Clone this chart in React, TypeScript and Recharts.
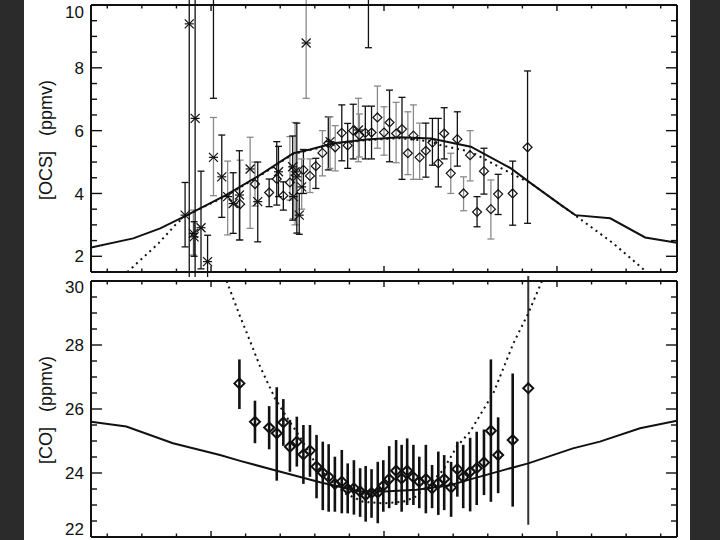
import React from 'react';
import { ComposedChart, Line, Scatter, XAxis, YAxis, ErrorBar } from 'recharts';

// shared latitude axis
const latDomain = [-84.7, 84.7];
const latTicks = [-80, -70, -60, -50, -40, -30, -20, -10, 0, 10, 20, 30, 40, 50, 60, 70, 80];
const latMajor = [-50, 0, 50];

// OCS panel axis
const ocsDomain = [1.5, 10];
const ocsTicks = [2, 2.5, 3, 3.5, 4, 4.5, 5, 5.5, 6, 6.5, 7, 7.5, 8, 8.5, 9, 9.5, 10];
const ocsLabels = [2, 4, 6, 8, 10];

// CO panel axis
const coDomain = [22, 30];
const coTicks = [22, 22.5, 23, 23.5, 24, 24.5, 25, 25.5, 26, 26.5, 27, 27.5, 28, 28.5, 29, 29.5, 30];
const coLabels = [22, 24, 26, 28, 30];

// OCS model curves
const ocsModelLat = [-84.7, -72.5, -64.7, -57.5, -45.7, -35.8, -26.2, -21.4, -14.6, -5.0, 4.6, 13.6, 25.1, 36.7, 42.5, 51.2, 55.3, 65.4, 75.5, 84.7];
const ocsModel = [2.28, 2.57, 2.89, 3.28, 3.95, 4.59, 5.28, 5.4, 5.6, 5.72, 5.79, 5.75, 5.49, 4.8, 4.32, 3.63, 3.31, 3.21, 2.6, 2.43];
const ocsDotLat = [-74.2, -72.5, -65.2, -60.4, -57.5, -45.7, -35.8, -26.2, -21.4, -14.6, -5.0, 4.6, 13.6, 16.2, 25.1, 36.7, 42.5, 55.2, 66.3, 75.5];
const ocsDot = [1.5, 1.67, 2.41, 2.99, 3.28, 3.92, 4.57, 5.26, 5.38, 5.58, 5.7, 5.76, 5.66, 5.54, 5.33, 4.64, 4.32, 3.31, 2.41, 1.54];

// OCS diamonds
const ocsDiaLat = [-41.6, -37.3, -33.2, -31.0, -29.1, -27.2, -23.3, -21.4, -19.7, -17.8, -16.1, -14.1, -12.2, -10.5, -8.9, -7.1, -5.4, -3.6, -1.9, 0, 1.6, 3.5, 5.2, 6.9, 8.5, 10.3, 12.1, 14.0, 15.7, 17.4, 19.3, 21.2, 23.0, 24.9, 26.9, 28.9, 30.9, 33.0, 37.2, 41.5];
const ocsDia = [3.66, 4.3, 4.03, 4.46, 3.93, 4.35, 4.75, 4.56, 4.87, 5.29, 5.6, 5.47, 5.93, 5.53, 6.0, 5.86, 5.93, 5.94, 6.42, 5.94, 6.26, 5.91, 6.05, 5.28, 5.84, 5.15, 5.36, 5.62, 4.96, 5.91, 4.64, 5.73, 4.0, 5.22, 3.41, 4.71, 3.5, 3.98, 4.0, 5.47];
const ocsDiaLo = [2.52, 3.6, 3.58, 3.63, 3.47, 3.79, 4.0, 4.03, 4.16, 4.56, 4.75, 4.72, 5.04, 4.8, 5.1, 5.16, 5.1, 5.1, 5.44, 5.22, 5.01, 4.98, 4.45, 4.6, 4.45, 4.45, 4.52, 4.9, 4.21, 5.1, 4.0, 4.87, 3.45, 4.4, 2.94, 3.98, 2.55, 3.33, 2.99, 3.05];
const ocsDiaHi = [5.06, 5.0, 4.46, 5.65, 4.37, 5.81, 5.4, 5.1, 5.12, 6.0, 6.44, 6.16, 6.82, 6.23, 6.84, 6.53, 6.78, 6.78, 7.42, 6.76, 7.29, 6.9, 7.06, 6.6, 6.82, 6.24, 6.24, 6.39, 6.39, 6.73, 5.28, 6.6, 4.53, 6.0, 3.9, 5.44, 4.43, 4.61, 5.03, 7.9];
const ocsDiaTone = ['g', 'g', 'k', 'k', 'k', 'g', 'k', 'g', 'k', 'g', 'k', 'g', 'k', 'k', 'k', 'g', 'k', 'k', 'g', 'g', 'k', 'g', 'k', 'g', 'g', 'g', 'k', 'k', 'k', 'k', 'g', 'k', 'g', 'g', 'k', 'k', 'g', 'k', 'k', 'k'];

// OCS asterisks
const ocsStarLat = [-57.5, -56.3, -55.1, -54.9, -54.6, -52.9, -51.0, -49.3, -49.3, -46.9, -45.2, -43.6, -41.8, -38.7, -36.5, -30.5, -26.4, -26.2, -25.7, -25.2, -24.5, -23.8, -22.5, -15.6, -7.4, -4.5];
const ocsStar = [3.31, 9.4, 2.73, 2.62, 6.39, 2.91, 1.83, 5.15, 11.5, 4.53, 3.9, 3.68, 3.95, 4.78, 3.74, 4.69, 4.85, 3.9, 4.69, 4.53, 3.31, 4.21, 8.79, 5.65, 6.02, 11.5];
const ocsStarLo = [2.3, 1.0, 2.04, 2.0, 1.0, 1.6, 1.2, 3.93, 7.03, 3.24, 2.68, 2.73, 2.52, 2.89, 2.46, 3.9, 3.15, 3.2, 3.0, 2.74, 2.7, 3.5, 7.03, 4.8, 5.01, 8.64];
const ocsStarHi = [4.35, 12, 3.47, 3.1, 12, 4.71, 2.67, 6.42, 13, 5.86, 5.03, 4.66, 5.36, 5.79, 5.0, 5.5, 5.83, 4.6, 6.26, 6.24, 4.0, 5.1, 10.5, 6.44, 7.03, 13];
const ocsStarTone = ['k', 'k', 'g', 'k', 'k', 'k', 'k', 'g', 'k', 'k', 'g', 'k', 'k', 'g', 'k', 'k', 'k', 'g', 'g', 'k', 'k', 'g', 'g', 'g', 'g', 'k'];

// CO model curves
const coModelLat = [-84.7, -74.5, -61.0, -47.4, -41.6, -31.0, -18.5, -6.9, 0, 9.4, 19.1, 24.9, 34.5, 41.7, 54.6, 62.4, 74.0, 84.7];
const coModel = [25.6, 25.45, 24.93, 24.56, 24.38, 24.07, 23.71, 23.42, 23.42, 23.48, 23.62, 23.8, 24.09, 24.3, 24.77, 24.98, 25.4, 25.63];
const coDotLat = [-45.5, -41.6, -40.0, -35.8, -31.5, -27.6, -24.3, -20.4, -16.6, -11.0, -6.0, -0.2, 5.5, 9.0, 12.3, 17.1, 21.0, 24.9, 27.7, 31.6, 37.4, 41.7, 45.6];
const coDot = [30.0, 28.89, 28.47, 27.32, 26.33, 25.66, 25.13, 24.41, 23.88, 23.35, 23.1, 23.05, 23.1, 23.25, 23.57, 24.09, 24.82, 25.29, 25.8, 26.49, 28.05, 28.99, 29.98];

// CO diamonds
const coDiaLat = [-41.8, -37.3, -33.2, -31.0, -29.1, -27.2, -25.2, -23.3, -21.4, -19.5, -17.7, -16.0, -14.2, -12.2, -10.5, -8.7, -6.9, -5.3, -3.6, -1.8, -0.2, 1.5, 3.5, 5.1, 6.7, 8.5, 10.2, 12.1, 13.9, 15.7, 17.4, 19.4, 21.2, 22.9, 24.9, 26.8, 28.9, 30.9, 33.0, 37.2, 41.7];
const coDia = [26.8, 25.6, 25.42, 25.24, 25.58, 24.82, 24.98, 24.58, 24.7, 24.2, 24.01, 23.88, 23.66, 23.73, 23.5, 23.52, 23.42, 23.31, 23.38, 23.39, 23.6, 23.81, 24.07, 23.83, 24.07, 23.87, 23.73, 23.81, 23.52, 23.68, 23.81, 23.55, 24.12, 23.87, 24.04, 24.15, 24.33, 25.32, 24.56, 25.03, 26.65];
const coDiaLo = [26.0, 24.93, 24.74, 23.76, 24.85, 24.04, 24.2, 23.66, 23.88, 23.21, 22.84, 22.79, 22.79, 22.74, 22.74, 22.7, 22.63, 22.48, 22.6, 22.43, 22.79, 22.9, 23.0, 22.79, 23.0, 23.0, 22.9, 22.74, 22.9, 22.69, 22.84, 22.63, 23.26, 22.9, 22.8, 23.0, 23.31, 23.1, 23.37, 22.95, 22.38];
const coDiaHi = [27.55, 26.26, 26.09, 26.68, 26.31, 25.66, 25.76, 25.5, 25.5, 25.19, 24.98, 24.9, 24.51, 24.72, 24.3, 24.4, 24.15, 24.22, 24.12, 24.35, 24.4, 24.84, 25.03, 24.88, 25.08, 24.88, 24.51, 24.88, 24.25, 24.67, 24.56, 24.35, 24.98, 24.88, 25.1, 25.29, 25.36, 27.55, 25.74, 27.11, 31];
const coDiaTone = ['k', 'k', 'k', 'k', 'k', 'k', 'k', 'k', 'k', 'k', 'k', 'k', 'k', 'k', 'k', 'k', 'k', 'k', 'k', 'k', 'k', 'k', 'k', 'k', 'k', 'k', 'k', 'k', 'k', 'k', 'k', 'k', 'k', 'k', 'k', 'k', 'k', 'k', 'k', 'k', 'g'];

const toLine = (xs: number[], ys: number[]) => xs.map((x, i) => ({ x, y: ys[i] }));
const toPoints = (xs: number[], ys: number[], lo: number[], hi: number[], tone: string[], want: string) =>
  xs
    .map((x, i) => ({ x, y: ys[i], err: [ys[i] - lo[i], hi[i] - ys[i]], tone: tone[i] }))
    .filter((p) => p.tone === want);

const FONT = '"Liberation Sans", Arial, Helvetica, sans-serif';
const BLACK = '#111';
const GRAY = '#8a8a8a';

const tickMark =
  (side: string, majors: number[], majorLen: number, minorLen: number, labels?: number[], lo = -1e9, hi = 1e9) =>
  (props: any) => {
    const { x, y, payload } = props;
    const v = payload.value;
    const len = majors.includes(v) ? majorLen : minorLen;
    const dx = side === 'left' ? len : side === 'right' ? -len : 0;
    const dy = side === 'bottom' ? -len : side === 'top' ? len : 0;
    return (
      <g>
        <line x1={x} y1={y} x2={x + dx} y2={y + dy} stroke={BLACK} strokeWidth={1.4} />
        {labels && labels.includes(v) && (
          <text x={x - 7} y={Math.min(Math.max(y, lo), hi)} dy="0.36em" textAnchor="end" fontFamily={FONT} fontSize={17} fill={BLACK}>
            {v}
          </text>
        )}
      </g>
    );
  };

const axes = (yDomain: number[], yTicks: number[], yLabels: number[], lo: number, hi: number) => {
  const line = { stroke: BLACK, strokeWidth: 2 };
  const common = { tickLine: false, tickSize: 0, tickMargin: 0, mirror: true, interval: 0 as const, allowDataOverflow: true };
  const yMajor = yLabels;
  return [
    <XAxis key="xb" xAxisId="b" type="number" dataKey="x" domain={latDomain} ticks={latTicks} orientation="bottom" height={1}
      axisLine={line} tick={tickMark('bottom', latMajor, 6, 3.5)} {...common} />,
    <XAxis key="xt" xAxisId="t" type="number" dataKey="x" domain={latDomain} ticks={latTicks} orientation="top" height={1}
      axisLine={line} tick={tickMark('top', latMajor, 6, 3.5)} {...common} />,
    <YAxis key="yl" yAxisId="l" type="number" domain={yDomain} ticks={yTicks} orientation="left" width={1}
      axisLine={line} tick={tickMark('left', yMajor, 11, 6, yLabels, lo, hi)} {...common} />,
    <YAxis key="yr" yAxisId="r" type="number" domain={yDomain} ticks={yTicks} orientation="right" width={1}
      axisLine={line} tick={tickMark('right', yMajor, 11, 6)} {...common} />,
  ];
};

const diamond = (r: number, w: number) => (p: any) => {
  const { cx, cy } = p;
  if (cx == null || cy == null) return <g />;
  return <path d={`M${cx},${cy - r}L${cx + r},${cy}L${cx},${cy + r}L${cx - r},${cy}Z`} fill="none" stroke={BLACK} strokeWidth={w} />;
};

const asterisk = (r: number) => (p: any) => {
  const { cx, cy } = p;
  if (cx == null || cy == null) return <g />;
  return (
    <g stroke={BLACK} strokeWidth={1.2}>
      <line x1={cx - r} y1={cy - r} x2={cx + r} y2={cy + r} />
      <line x1={cx - r} y1={cy + r} x2={cx + r} y2={cy - r} />
      <line x1={cx - r} y1={cy} x2={cx + r} y2={cy} />
    </g>
  );
};

const series = (data: any[], shape: any, stroke: string, width: number, cap: number, key: string) => (
  <Scatter key={key} xAxisId="b" yAxisId="l" data={data} dataKey="y" shape={shape} isAnimationActive={false}>
    <ErrorBar dataKey="err" direction="y" width={cap} stroke={stroke} strokeWidth={width} isAnimationActive={false} />
  </Scatter>
);

export default function App() {
  const ocsModelData = toLine(ocsModelLat, ocsModel);
  const ocsDotData = toLine(ocsDotLat, ocsDot);
  const coModelData = toLine(coModelLat, coModel);
  const coDotData = toLine(coDotLat, coDot);

  return (
    <div style={{ position: 'absolute', left: 0, top: 0, width: 720, height: 540, background: '#2b2b2b', overflow: 'hidden' }}>
      <style>{'body{margin:0}'}</style>
      <div style={{ position: 'absolute', left: 24, top: 0, width: 666, height: 540, background: '#fff' }} />

      <div style={{ position: 'absolute', left: 0, top: 0 }}>
        <ComposedChart width={720} height={277} margin={{ top: 5, right: 43, bottom: 5, left: 91 }}>
          {axes(ocsDomain, ocsTicks, ocsLabels, 12, 1e9)}
          {series(toPoints(ocsDiaLat, ocsDia, ocsDiaLo, ocsDiaHi, ocsDiaTone, 'g'), diamond(4.5, 1.2), GRAY, 1.3, 3.5, 'dg')}
          {series(toPoints(ocsDiaLat, ocsDia, ocsDiaLo, ocsDiaHi, ocsDiaTone, 'k'), diamond(4.5, 1.2), BLACK, 1.3, 3.5, 'dk')}
          {series(toPoints(ocsStarLat, ocsStar, ocsStarLo, ocsStarHi, ocsStarTone, 'g'), asterisk(4.5), GRAY, 1.3, 3.5, 'sg')}
          {series(toPoints(ocsStarLat, ocsStar, ocsStarLo, ocsStarHi, ocsStarTone, 'k'), asterisk(4.5), BLACK, 1.3, 3.5, 'sk')}
          <Line xAxisId="b" yAxisId="l" data={ocsDotData} dataKey="y" type="linear" stroke={BLACK} strokeWidth={2}
            strokeDasharray="2 4" dot={false} isAnimationActive={false} />
          <Line xAxisId="b" yAxisId="l" data={ocsModelData} dataKey="y" type="linear" stroke={BLACK} strokeWidth={2}
            dot={false} isAnimationActive={false} />
        </ComposedChart>
      </div>

      <div style={{ position: 'absolute', left: 0, top: 276 }}>
        <ComposedChart width={720} height={264} margin={{ top: 5, right: 43, bottom: 3, left: 91 }}>
          {axes(coDomain, coTicks, coLabels, 11, 253)}
          {series(toPoints(coDiaLat, coDia, coDiaLo, coDiaHi, coDiaTone, 'g'), diamond(5, 2), '#333', 2, 0, 'cg')}
          {series(toPoints(coDiaLat, coDia, coDiaLo, coDiaHi, coDiaTone, 'k'), diamond(5, 2), BLACK, 2.6, 0, 'ck')}
          <Line xAxisId="b" yAxisId="l" data={coDotData} dataKey="y" type="linear" stroke={BLACK} strokeWidth={2}
            strokeDasharray="2 4" dot={false} isAnimationActive={false} />
          <Line xAxisId="b" yAxisId="l" data={coModelData} dataKey="y" type="linear" stroke={BLACK} strokeWidth={2}
            dot={false} isAnimationActive={false} />
        </ComposedChart>
      </div>

      <svg width={720} height={540} style={{ position: 'absolute', left: 0, top: 0, pointerEvents: 'none' }}>
        <text transform="translate(46,140) rotate(-90)" textAnchor="middle" dominantBaseline="central" fontFamily={FONT} fontSize={18} fill={BLACK}>
          <tspan>[OCS]</tspan>
          <tspan dx={15}>(ppmv)</tspan>
        </text>
        <text transform="translate(46,410) rotate(-90)" textAnchor="middle" dominantBaseline="central" fontFamily={FONT} fontSize={18} fill={BLACK}>
          <tspan>[CO]</tspan>
          <tspan dx={15}>(ppmv)</tspan>
        </text>
      </svg>
    </div>
  );
}
